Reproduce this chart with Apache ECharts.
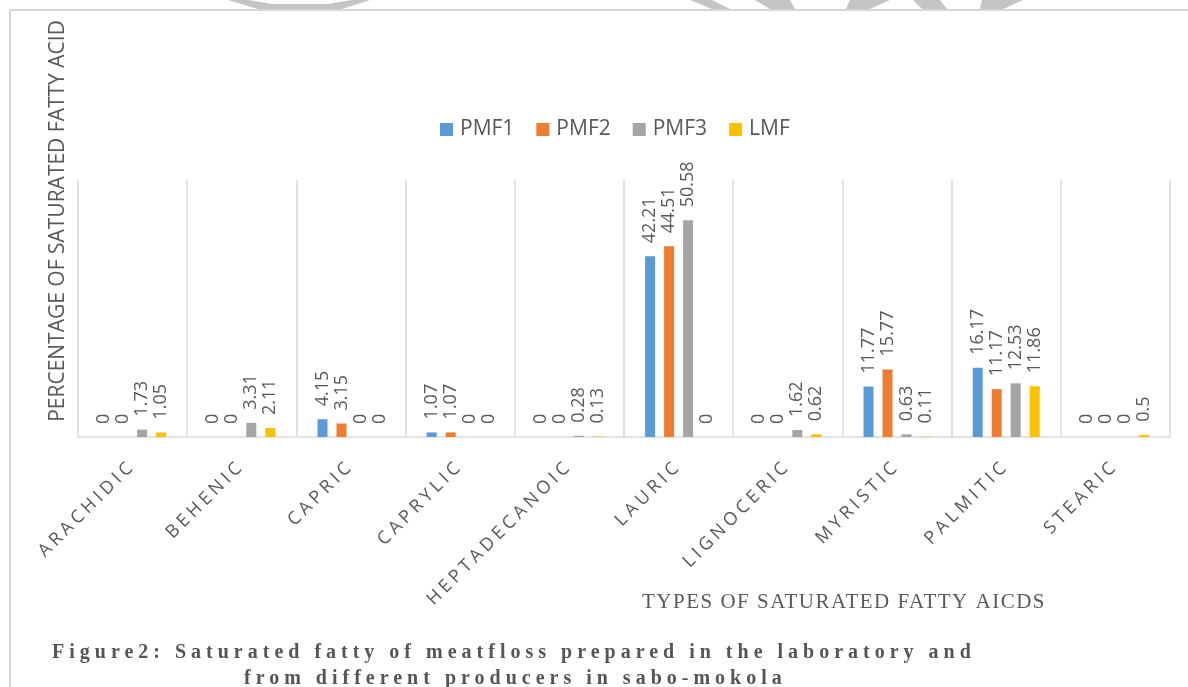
<!DOCTYPE html>
<html>
<head>
<meta charset="utf-8">
<script src="https://cdn.jsdelivr.net/npm/echarts@6/dist/echarts.min.js"></script>
<style>
html,body{margin:0;padding:0;background:#fff;}
#chart{width:1188px;height:687px;}
</style>
</head>
<body>
<div id="chart"></div>
<script>
// letter spacing support keyed on a marker family name "LSPn"
(function(){
  var P = CanvasRenderingContext2D.prototype;
  function setLS(ctx){
    var m = /LSP(\d+(?:_\d+)?)/.exec(ctx.font || '');
    var v = m ? m[1].replace('_','.') + 'px' : '0px';
    if ('letterSpacing' in ctx && ctx.letterSpacing !== v) ctx.letterSpacing = v;
  }
  var ft = P.fillText, mt = P.measureText, st = P.strokeText;
  P.fillText = function(){ setLS(this); return ft.apply(this, arguments); };
  P.strokeText = function(){ setLS(this); return st.apply(this, arguments); };
  P.measureText = function(){ setLS(this); return mt.apply(this, arguments); };
})();

const categories = ['ARACHIDIC','BEHENIC','CAPRIC','CAPRYLIC','HEPTADECANOIC','LAURIC','LIGNOCERIC','MYRISTIC','PALMITIC','STEARIC'];
const seriesNames = ['PMF1','PMF2','PMF3','LMF'];
const PMF1 = [0, 0, 4.15, 1.07, 0, 42.21, 0, 11.77, 16.17, 0];
const PMF2 = [0, 0, 3.15, 1.07, 0, 44.51, 0, 15.77, 11.17, 0];
const PMF3 = [1.73, 3.31, 0, 0, 0.28, 50.58, 1.62, 0.63, 12.53, 0];
const LMF  = [1.05, 2.11, 0, 0, 0.13, 0, 0.62, 0.11, 11.86, 0.5];
const colors = ['#5B9BD5', '#ED7D31', '#A5A5A5', '#FFC000'];
const yTitle = 'PERCENTAGE OF SATURATED FATTY ACID';
const xTitle = 'TYPES OF SATURATED FATTY AICDS';
const caption1 = 'Figure2: Saturated fatty of meatfloss prepared in the laboratory and';
const caption2 = 'from different producers in sabo-mokola';

const allData = [PMF1, PMF2, PMF3, LMF];
const textGray = '#595959';
const wmGray = '#c4c4c4';

const chart = echarts.init(document.getElementById('chart'), null, {renderer: 'canvas'});
chart.setOption({
  backgroundColor: '#ffffff',
  animation: false,
  color: colors,
  legend: {
    data: seriesNames,
    left: 435,
    top: 114,
    icon: 'rect',
    itemWidth: 13,
    itemHeight: 13,
    itemGap: 22,
    textStyle: {fontFamily: "'Open Sans'", fontSize: 21, color: textGray, padding: [0, 0, 0, 2]}
  },
  grid: {left: 78, right: 18, top: 180, bottom: 250},
  xAxis: {
    type: 'category',
    data: categories,
    axisLine: {lineStyle: {color: '#d9d9d9', width: 1.5}},
    axisTick: {show: false},
    splitLine: {show: true, interval: 0, lineStyle: {color: '#d9d9d9', width: 1.5}},
    axisLabel: {
      interval: 0,
      rotate: 45,
      margin: 26,
      fontFamily: "'Open Sans', LSP4",
      fontSize: 18,
      color: textGray
    }
  },
  yAxis: {type: 'value', min: 0, max: 60, show: false},
  series: seriesNames.map(function(n, i){
    return {
      name: n,
      type: 'bar',
      data: allData[i],
      barWidth: 10,
      barGap: '90%',
      itemStyle: {color: colors[i]},
      label: {
        show: true,
        position: 'top',
        distance: 13,
        rotate: 90,
        align: 'left',
        verticalAlign: 'middle',
        fontFamily: "'Open Sans'",
        fontSize: 18,
        color: textGray,
        formatter: function(p){ return String(p.value); }
      }
    };
  }),
  graphic: [
    // faint page watermark fragments at the top edge
    {type: 'polygon', silent: true, shape: {points: [[228,0],[258,9],[342,9],[370,0],[352,0],[328,4],[272,4],[248,0]]}, style: {fill: wmGray}},
    {type: 'polygon', silent: true, shape: {points: [[690,0],[712,9],[730,9],[712,0]]}, style: {fill: wmGray}},
    {type: 'polygon', silent: true, shape: {points: [[755,0],[770,9],[795,9],[790,0]]}, style: {fill: wmGray}},
    {type: 'polygon', silent: true, shape: {points: [[850,0],[846,9],[870,9],[890,0]]}, style: {fill: wmGray}},
    {type: 'polygon', silent: true, shape: {points: [[913,0],[922,9],[947,9],[940,0]]}, style: {fill: wmGray}},
    {type: 'polygon', silent: true, shape: {points: [[982,0],[980,9],[1003,9],[1023,0]]}, style: {fill: wmGray}},
    {type: 'line', shape: {x1: 10, y1: 10, x2: 1188, y2: 10}, style: {stroke: '#d6d6d6', lineWidth: 2}, silent: true},
    {type: 'line', shape: {x1: 10, y1: 10, x2: 10, y2: 687}, style: {stroke: '#d6d6d6', lineWidth: 2}, silent: true},
    {type: 'text', x: 58, y: 221, rotation: Math.PI/2,
      style: {text: yTitle, fill: textGray, fontFamily: "'Open Sans'", fontSize: 21, textAlign: 'center', textVerticalAlign: 'middle'}},
    {type: 'text', x: 844, y: 602,
      style: {text: xTitle, fill: textGray, fontFamily: "'Liberation Serif', LSP1_5", fontSize: 21, textAlign: 'center', textVerticalAlign: 'middle'}},
    {type: 'text', x: 52, y: 653,
      style: {text: caption1, fill: '#555555', fontFamily: "'Liberation Serif', LSP5", fontWeight: 'bold', fontSize: 20, textAlign: 'left', textVerticalAlign: 'middle'}},
    {type: 'text', x: 244, y: 679,
      style: {text: caption2, fill: '#555555', fontFamily: "'Liberation Serif', LSP5", fontWeight: 'bold', fontSize: 20, textAlign: 'left', textVerticalAlign: 'middle'}}
  ]
});
</script>
</body>
</html>
